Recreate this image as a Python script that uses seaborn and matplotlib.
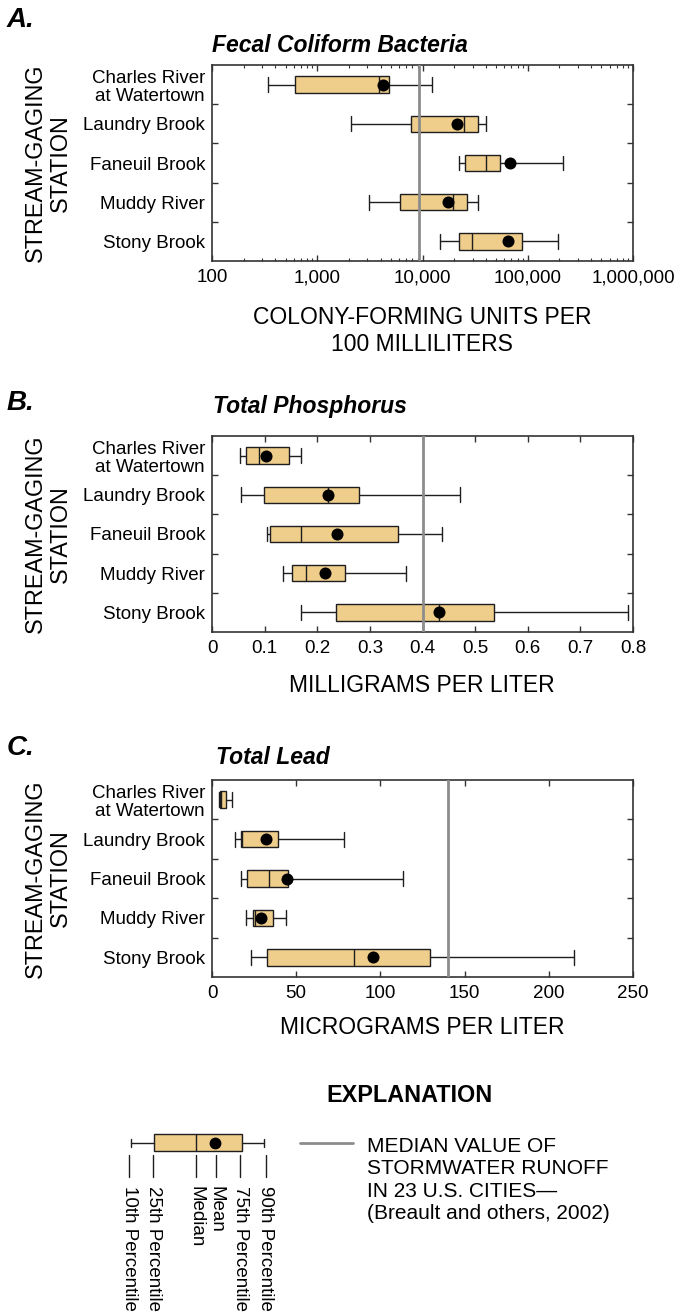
import numpy as np
import pandas as pd
import matplotlib.pyplot as plt
import matplotlib.ticker as mticker
from matplotlib.patches import Rectangle
import seaborn as sns

stations = ["Charles River\nat Watertown", "Laundry Brook", "Faneuil Brook",
            "Muddy River", "Stony Brook"]

# A. fecal coliform bacteria (colonies per 100 mL)
fc_p10 = [340, 2100, 22000, 3100, 14800]
fc_p25 = [620, 7700, 25600, 6100, 22000]
fc_p50 = [3900, 25000, 40500, 19400, 29600]
fc_p75 = [4850, 34000, 54000, 26500, 89000]
fc_p90 = [12300, 40000, 215000, 34000, 194000]
fc_mean = [4250, 21500, 67500, 17500, 64500]
fc_ref = 9300

# B. total phosphorus (mg/L)
tp_p10 = [0.054, 0.055, 0.105, 0.134, 0.169]
tp_p25 = [0.065, 0.098, 0.110, 0.152, 0.236]
tp_p50 = [0.089, 0.220, 0.169, 0.179, 0.432]
tp_p75 = [0.147, 0.280, 0.353, 0.252, 0.535]
tp_p90 = [0.169, 0.472, 0.437, 0.368, 0.790]
tp_mean = [0.103, 0.220, 0.238, 0.214, 0.432]
tp_ref = 0.40

# C. total lead (ug/L)
pb_p10 = [4.0, 13.5, 17.4, 20.2, 23.0]
pb_p25 = [4.5, 17.0, 20.8, 24.4, 32.9]
pb_p50 = [5.5, 17.8, 33.7, 25.4, 84.2]
pb_p75 = [8.3, 39.0, 45.2, 36.1, 129.6]
pb_p90 = [12.0, 78.4, 113.7, 44.0, 214.9]
pb_mean = [np.nan, 32.3, 44.4, 29.3, 95.7]
pb_ref = 140

W, H = 676, 1312
BOX = "#EFCD8B"
EDGE = "#1E1E1E"
REF = "#8C8C8C"
FS = 13.5

sns.set_style("ticks")
plt.rcParams["font.family"] = ["Liberation Sans", "DejaVu Sans"]
plt.rcParams.update({"text.color": "black", "xtick.color": "black",
                     "ytick.color": "black", "axes.labelcolor": "black"})

fig = plt.figure(figsize=(W / 100, H / 100), dpi=100)


def px_axes(left, top, right, bottom):
    return fig.add_axes([left / W, 1 - bottom / H, (right - left) / W, (bottom - top) / H])


def draw_panel(ax, p10, p25, p50, p75, p90, mean, ref, log=False):
    df = pd.DataFrame({
        "station": np.repeat(stations, 5),
        "value": np.column_stack([p10, p25, p50, p75, p90]).ravel(),
    })
    # five summary values per station -> box at 25/50/75, whiskers at 10/90
    sns.boxplot(data=df, x="value", y="station", orient="h", whis=(0, 100),
                width=0.42, color=BOX, saturation=1, linecolor=EDGE,
                linewidth=1.0, fliersize=0, log_scale=True if log else None, ax=ax)
    # longer whisker caps
    for ln in ax.lines:
        xd, yd = np.asarray(ln.get_xdata()), np.asarray(ln.get_ydata())
        if len(xd) == 2 and xd[0] == xd[1] and abs(yd[1] - yd[0]) < 0.4:
            c = yd.mean()
            ln.set_ydata([c - 0.19, c + 0.19])
    sns.scatterplot(x=mean, y=np.arange(len(stations)), color="black", s=75,
                    linewidth=0, zorder=4, legend=False, ax=ax)
    ax.axvline(ref, color=REF, lw=2, zorder=6)
    ax.set_ylim(len(stations) - 0.5, -0.5)
    ax.set_xlabel("")
    ax.set_ylabel("")
    ax.set_yticks(np.arange(len(stations)))
    ax.set_yticklabels(stations)
    ax.set_yticks(np.arange(0.5, len(stations) - 1, 1), minor=True)
    ax.tick_params(axis="y", which="major", length=0, pad=5, labelsize=FS)
    ax.tick_params(axis="y", which="minor", direction="in", left=True, right=True,
                   length=4, width=1, color="#333333")
    ax.tick_params(axis="x", which="both", direction="in", top=True, bottom=True,
                   labelsize=FS, pad=6, color="#333333")
    ax.tick_params(axis="x", which="major", length=4.5, width=1)
    ax.tick_params(axis="x", which="minor", length=2.5, width=0.8)
    for lab in ax.get_yticklabels():
        lab.set_linespacing(1.12)
    for s in ax.spines.values():
        s.set_linewidth(1.2)
        s.set_color("#333333")


axA = px_axes(212, 65, 633, 261)
draw_panel(axA, fc_p10, fc_p25, fc_p50, fc_p75, fc_p90, fc_mean, fc_ref, log=True)
axA.set_xlim(100, 1e6)
axA.xaxis.set_major_locator(mticker.LogLocator(base=10, numticks=10))
axA.xaxis.set_major_formatter(mticker.FuncFormatter(lambda v, p: f"{v:,.0f}"))
axA.xaxis.set_minor_locator(mticker.LogLocator(base=10, subs=np.arange(2, 10), numticks=40))
axA.xaxis.set_minor_formatter(mticker.NullFormatter())

axB = px_axes(212, 436, 633, 632)
draw_panel(axB, tp_p10, tp_p25, tp_p50, tp_p75, tp_p90, tp_mean, tp_ref)
axB.set_xlim(0, 0.8)
axB.set_xticks(np.arange(0, 0.81, 0.1))
axB.xaxis.set_major_formatter(mticker.FuncFormatter(lambda v, p: "0" if v == 0 else f"{v:.1f}"))

axC = px_axes(212, 780, 633, 977)
draw_panel(axC, pb_p10, pb_p25, pb_p50, pb_p75, pb_p90, pb_mean, pb_ref)
axC.set_xlim(0, 250)
axC.set_xticks(np.arange(0, 251, 50))

# overlay in pixel coordinates for labels and explanation
ov = fig.add_axes([0, 0, 1, 1])
ov.set_xlim(0, W)
ov.set_ylim(H, 0)
ov.axis("off")

for letter, y in [("A.", 20), ("B.", 403), ("C.", 748)]:
    ov.text(7, y, letter, fontsize=20, fontweight="bold", fontstyle="italic",
            ha="left", va="center")
for title, x, y in [("Fecal Coliform Bacteria", 212, 46), ("Total Phosphorus", 213, 406),
                    ("Total Lead", 216, 758)]:
    ov.text(x, y, title, fontsize=16.5, fontweight="bold", fontstyle="italic",
            ha="left", va="center")
for yc in [(65 + 261) / 2, (436 + 632) / 2, (780 + 977) / 2]:
    ov.text(48, yc, "STREAM-GAGING\nSTATION", fontsize=16.8, rotation=90,
            ha="center", va="center", multialignment="center", linespacing=1.15)
ov.text(422, 331, "COLONY-FORMING UNITS PER\n100 MILLILITERS", fontsize=16.5,
        ha="center", va="center", multialignment="center", linespacing=1.2)
ov.text(422, 686, "MILLIGRAMS PER LITER", fontsize=16.5, ha="center", va="center")
ov.text(422, 1027, "MICROGRAMS PER LITER", fontsize=16.5, ha="center", va="center")

# explanation
ov.text(409, 1095, "EXPLANATION", fontsize=16.8, fontweight="bold", ha="center", va="center")
ov.plot([300, 353], [1143.3, 1143.3], color=REF, lw=2)
ov.text(367, 1137, "MEDIAN VALUE OF\nSTORMWATER RUNOFF\nIN 23 U.S. CITIES\u2014\n(Breault and others, 2002)",
        fontsize=15, ha="left", va="top", linespacing=1.22)

yb = 1142.7
ov.plot([130.7, 154], [yb, yb], color=EDGE, lw=1)
ov.plot([242.3, 264], [yb, yb], color=EDGE, lw=1)
ov.plot([130.7, 130.7], [yb - 4, yb + 4], color=EDGE, lw=1)
ov.plot([264, 264], [yb - 4, yb + 4], color=EDGE, lw=1)
ov.add_patch(Rectangle((154, 1134.3), 88.3, 16.7, facecolor=BOX, edgecolor=EDGE, lw=1))
ov.plot([196, 196], [1134.3, 1151], color=EDGE, lw=1)
ov.plot([215], [yb], "o", color="black", ms=7.5)

keys = [("10th Percentile", 129), ("25th Percentile", 153.3), ("Median", 196),
        ("Mean", 215.7), ("75th Percentile", 240), ("90th Percentile", 265.7)]
for lab, x in keys:
    ov.plot([x, x], [1155, 1177], color=EDGE, lw=1)
    ov.text(x, 1186, lab, fontsize=FS, rotation=-90, ha="center", va="top")

fig.savefig("out.png", dpi=100)
